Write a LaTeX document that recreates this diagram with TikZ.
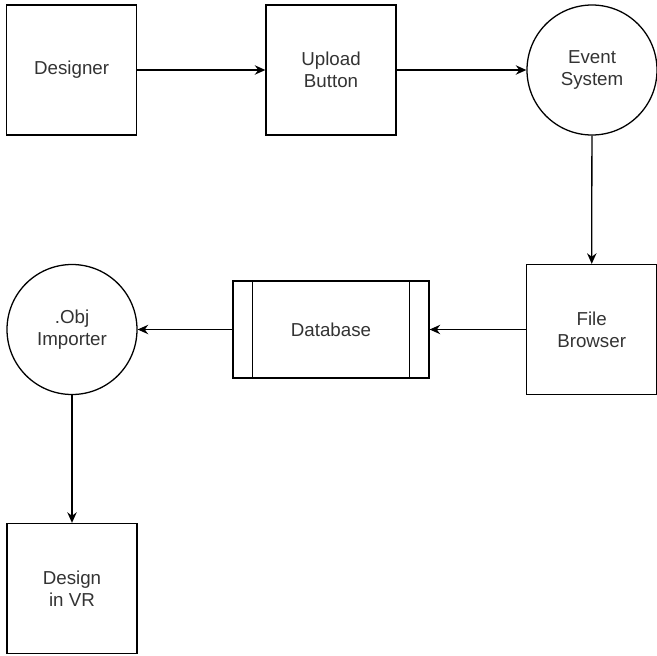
\documentclass[tikz,border=0pt]{standalone}
\usepackage{fontspec}
\setmainfont{Liberation Sans}
\usepackage{tikz}
\usetikzlibrary{arrows.meta, positioning}

\begin{document}
\begin{tikzpicture}[
      proc/.style={draw, line width=1.1pt, minimum width=3.9cm, minimum height=3.9cm, align=center},
      circ/.style={draw, circle, line width=1.1pt, minimum size=3.9cm, inner sep=0pt, align=center},
      store/.style={draw, line width=1.1pt, minimum width=5.88cm, minimum height=2.91cm, align=center},
      arrow/.style={-{Stealth[length=9pt, width=8pt]}, line width=1.1pt},
      every node/.style={font=\fontsize{16}{19}\selectfont, text=black!80}
    ]
    \useasboundingbox (0,0) rectangle (19.71,-19.65);

    % Nodes
    \node[proc] (designer) at (2.15, -2.1) {Designer};
    \node[proc] (upload) at (9.93, -2.1) {Upload\\Button};
    \node[circ] (event) at (17.76, -2.1) {Event\\System};
    \node[proc] (browser) at (17.75, -9.885) {File\\Browser};
    \node[store] (db) at (9.93, -9.885) {Database};
    \node[circ] (importer) at (2.16, -9.885) {.Obj\\Importer};
    \node[proc] (vr) at (2.16, -17.655) {Design\\in VR};

    % Database side bars
    \draw[line width=1.1pt] ([xshift=0.6cm]db.north west) -- ([xshift=0.6cm]db.south west);
    \draw[line width=1.1pt] ([xshift=-0.6cm]db.north east) -- ([xshift=-0.6cm]db.south east);

    % Arrows
    \draw[arrow] (designer) -- (upload);
    \draw[arrow] (upload) -- (event);
    \draw[arrow] (event) -- (browser);
    \draw[arrow] (browser) -- (db);
    \draw[arrow] (db) -- (importer);
    \draw[arrow] (importer) -- (vr);

\end{tikzpicture}
\end{document}
